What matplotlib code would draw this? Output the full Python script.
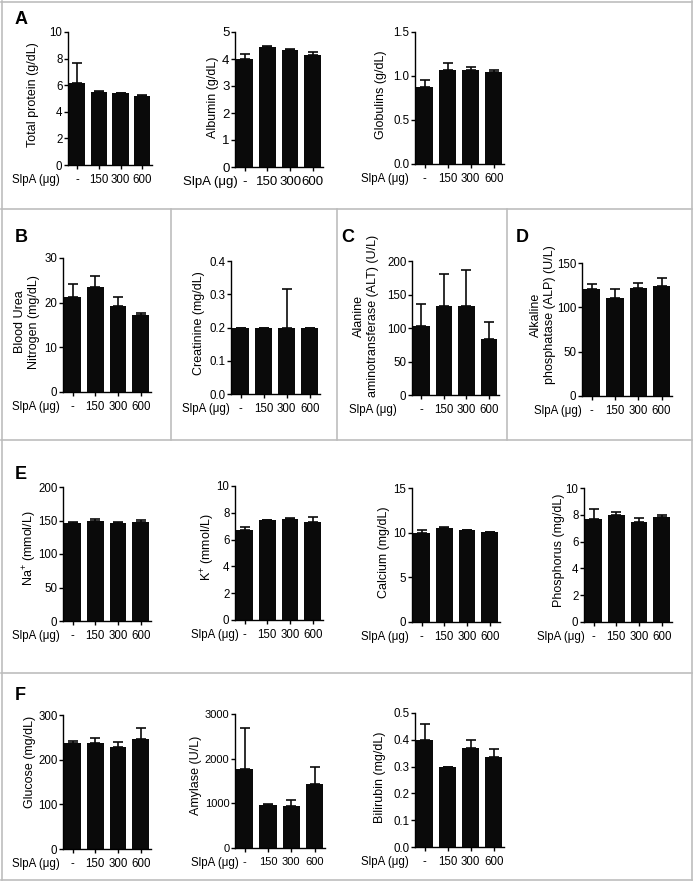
import matplotlib
matplotlib.use("Agg")
import matplotlib.pyplot as plt
from matplotlib.lines import Line2D
from matplotlib.ticker import MultipleLocator, FormatStrFormatter

plt.rcParams['font.family'] = ['Liberation Sans', 'DejaVu Sans']
plt.rcParams['mathtext.default'] = 'regular'

W, H = 694, 881

doses = ['-', '150', '300', '600']
dose_title = 'SlpA (μg)'

# bar heights (mean) and upper error (SD)
total_protein = [6.2, 5.5, 5.4, 5.2]
total_protein_err = [1.5, 0.1, 0.02, 0.07]
albumin = [4.0, 4.45, 4.35, 4.15]
albumin_err = [0.2, 0.02, 0.02, 0.1]
globulins = [0.87, 1.07, 1.07, 1.04]
globulins_err = [0.08, 0.08, 0.03, 0.03]
bun = [21.3, 23.4, 19.3, 17.3]
bun_err = [2.9, 2.6, 1.9, 0.3]
creatinine = [0.2, 0.2, 0.2, 0.2]
creatinine_err = [0.0, 0.0, 0.115, 0.0]
alt = [103, 133, 133, 84]
alt_err = [33, 48, 53, 25]
alp = [121, 111, 122, 124]
alp_err = [5, 10, 6, 9]
sodium = [147, 149, 147, 148]
sodium_err = [1, 3, 1, 3]
potassium = [6.7, 7.45, 7.55, 7.3]
potassium_err = [0.25, 0.05, 0.07, 0.35]
calcium = [10.0, 10.55, 10.3, 10.05]
calcium_err = [0.25, 0.05, 0.05, 0.05]
phosphorus = [7.65, 8.0, 7.45, 7.8]
phosphorus_err = [0.75, 0.2, 0.3, 0.2]
glucose = [237, 237, 228, 247]
glucose_err = [5, 11, 11, 23]
amylase = [1760, 970, 940, 1430]
amylase_err = [920, 10, 130, 390]
bilirubin = [0.40, 0.30, 0.37, 0.335]
bilirubin_err = [0.06, 0.0, 0.03, 0.032]

# label, values, errors, ymax, tick step, tick format
panels = [
    ("Total protein (g/dL)", total_protein, total_protein_err, 10, 2, "%d"),
    ("Albumin (g/dL)", albumin, albumin_err, 5, 1, "%d"),
    ("Globulins (g/dL)", globulins, globulins_err, 1.5, 0.5, "%.1f"),
    ("Blood Urea\nNitrogen (mg/dL)", bun, bun_err, 30, 10, "%d"),
    ("Creatinine (mg/dL)", creatinine, creatinine_err, 0.4, 0.1, "%.1f"),
    ("Alanine\naminotransferase (ALT) (U/L)", alt, alt_err, 200, 50, "%d"),
    ("Alkaline\nphosphatase (ALP) (U/L)", alp, alp_err, 150, 50, "%d"),
    ("Na$^{+}$ (mmol/L)", sodium, sodium_err, 200, 50, "%d"),
    ("K$^{+}$ (mmol/L)", potassium, potassium_err, 10, 2, "%d"),
    ("Calcium (mg/dL)", calcium, calcium_err, 15, 5, "%d"),
    ("Phosphorus (mg/dL)", phosphorus, phosphorus_err, 10, 2, "%d"),
    ("Glucose (mg/dL)", glucose, glucose_err, 300, 100, "%d"),
    ("Amylase (U/L)", amylase, amylase_err, 3000, 1000, "%d"),
    ("Bilirubin (mg/dL)", bilirubin, bilirubin_err, 0.5, 0.1, "%.1f"),
]

# pixel layout: y-axis x, axis right x, top y, zero y,
# ylabel centre x, ylabel centre y, SlpA label right x, tick font size
layout = [
    (68, 152, 32, 165, 33, 95, 60, 8.3),
    (235, 323, 32, 167, 213, 97, 238, 9.5),
    (415, 504, 32, 164, 381, 95, 409, 8.3),
    (63, 151, 258, 392, 27, 322, 60, 8.3),
    (231, 320, 261, 394, 199, 323, 230, 8.3),
    (412, 499, 261, 395, 366, 316, 397, 8.3),
    (582, 672, 263, 396, 543, 315, 582, 8.3),
    (63, 151, 487, 621, 30, 548, 60, 8.3),
    (235, 323, 486, 620, 208, 547, 239, 8.3),
    (412, 500, 488, 622, 384, 552, 409, 8.3),
    (584, 672, 488, 622, 559, 550, 585, 8.3),
    (63, 151, 715, 849, 30, 762, 60, 8.3),
    (235, 325, 714, 848, 196, 775, 239, 8.0),
    (415, 504, 713, 847, 380, 777, 409, 8.3),
]

letters = [("A", 15, 20), ("B", 15, 238), ("C", 341, 238),
           ("D", 516, 238), ("E", 15, 475), ("F", 15, 696)]

fig = plt.figure(figsize=(W / 100, H / 100), dpi=100)

for (label, vals, errs, ymax, step, fmt), lay in zip(panels, layout):
    x0, x1, yt, yb, lx, ly, sx, fs = lay
    ax = fig.add_axes([x0 / W, 1 - yb / H, (x1 - x0) / W, (yb - yt) / H])
    pos = range(len(doses))
    ax.bar(pos, vals, width=0.74, color='#0a0a0a', zorder=2)
    ax.errorbar(pos, vals, yerr=[[0] * len(errs), errs], fmt='none',
                ecolor='#0a0a0a', elinewidth=1.2, capsize=3.5, capthick=1.2,
                zorder=1)
    ax.set_xlim(-0.42, 3.45)
    ax.set_ylim(0, ymax)
    ax.yaxis.set_major_locator(MultipleLocator(step))
    ax.yaxis.set_major_formatter(FormatStrFormatter(fmt))
    ax.set_xticks(list(pos))
    ax.set_xticklabels(doses)
    for s in ['top', 'right']:
        ax.spines[s].set_visible(False)
    for s in ['left', 'bottom']:
        ax.spines[s].set_linewidth(1.0)
    ax.tick_params(axis='both', length=3, width=1.0, labelsize=fs)
    ax.tick_params(axis='y', pad=1)
    ax.tick_params(axis='x', pad=3.5)
    fig.text(lx / W, 1 - ly / H, label, rotation=90, ha='center',
             va='center', fontsize=9, linespacing=1.2)
    fig.text(sx / W, 1 - (yb + 15) / H, dose_title, ha='right',
             va='center', fontsize=max(fs, 8.3))

for txt, x, y in letters:
    fig.text(x / W, 1 - y / H, txt, ha='left', va='center',
             fontsize=13, fontweight='bold')

# panel frames
grey = '#bdbdbd'


def hline(y, xa, xb):
    fig.add_artist(Line2D([xa / W, xb / W], [1 - y / H, 1 - y / H],
                          color=grey, lw=1.2))


def vline(x, ya, yb):
    fig.add_artist(Line2D([x / W, x / W], [1 - ya / H, 1 - yb / H],
                          color=grey, lw=1.2))


for y in [1.5, 209, 440, 673, 879.5]:
    hline(y, 1, 692)
for x in [1.5, 692]:
    vline(x, 1, 880)
for x in [171, 337, 507]:
    vline(x, 209, 440)

fig.savefig("out.png", dpi=100)
